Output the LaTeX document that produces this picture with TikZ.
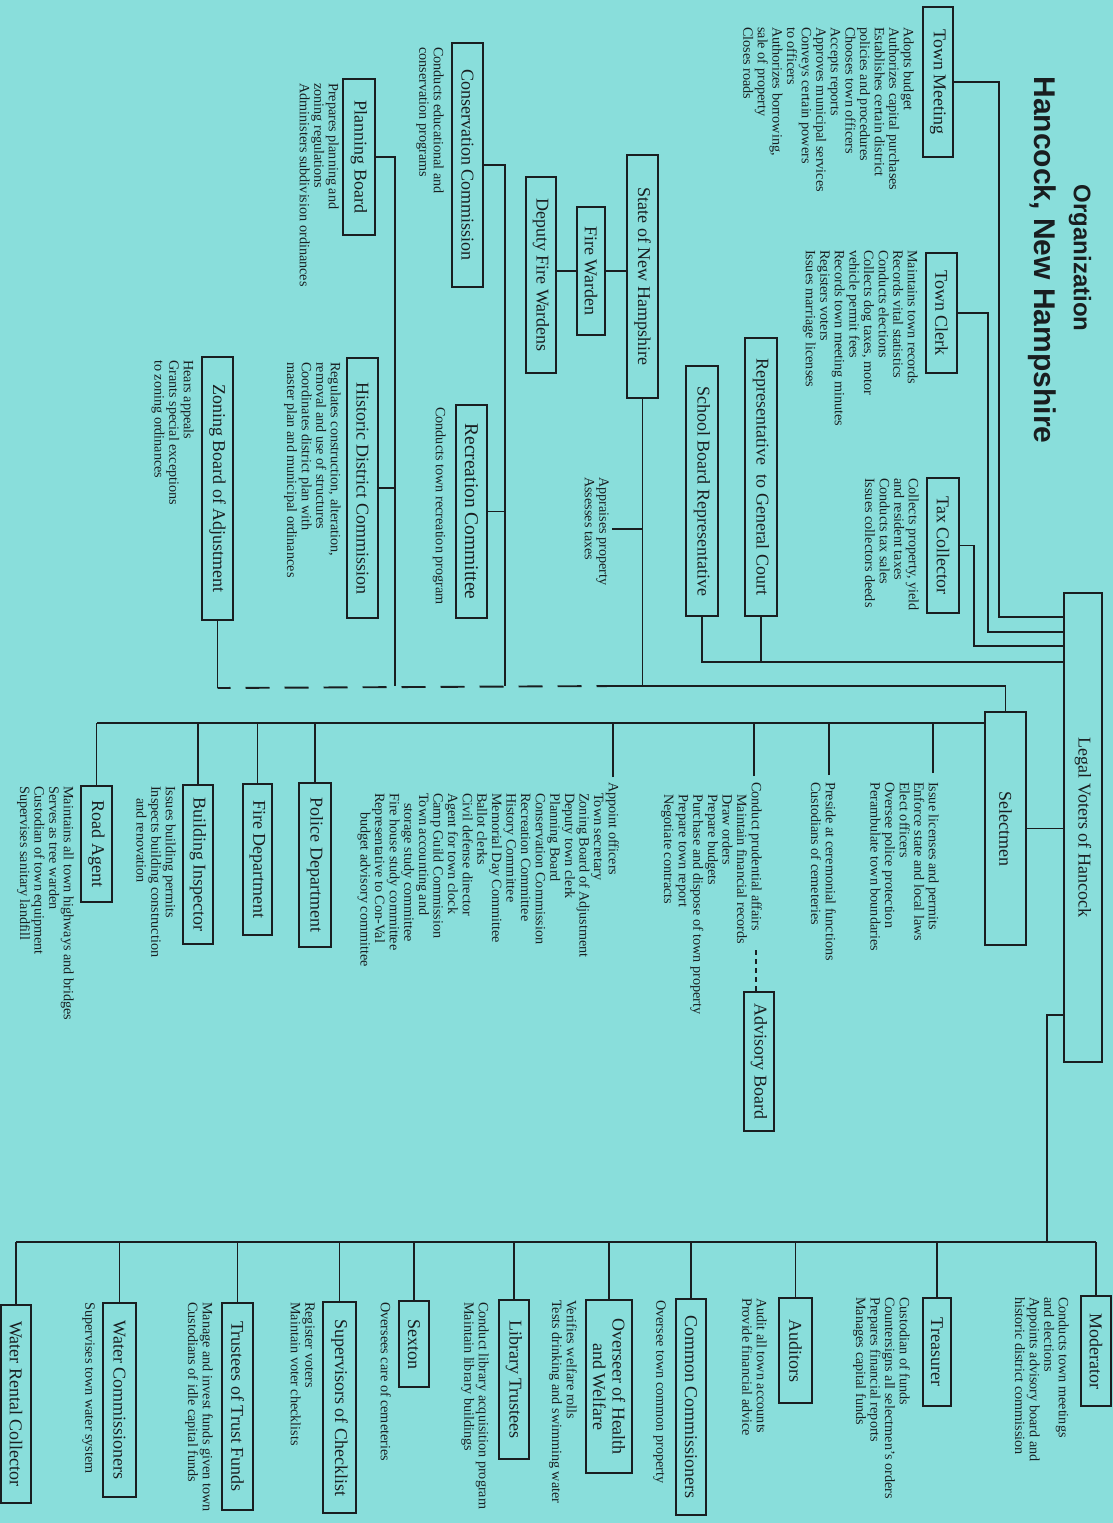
\documentclass[tikz,border=0pt]{standalone}
\usepackage{fontspec}
\setmainfont{Liberation Serif}
\newfontfamily\titlefont{Liberation Sans}
\usetikzlibrary{calc}
\definecolor{bg}{RGB}{137,222,219}
\definecolor{ink}{RGB}{25,30,32}
\newcommand\descfont{\fontsize{14.2}{14.6}\selectfont}
\newcommand\boxfont{\fontsize{18}{19.5}\selectfont}
\begin{document}
\begin{tikzpicture}[x=1pt,y=-1pt,
  box/.style={draw=ink, text=ink, line width=2.4pt, rotate=-90, inner sep=0pt, font=\boxfont, align=center},
  desc/.style={text=ink, rotate=-90, anchor=north west, inner sep=0pt, align=left, font=\descfont},
  conn/.style={draw=ink, line width=1.9pt},
  dashconn/.style={draw=ink, line width=1.9pt, dash pattern=on 24pt off 15pt, dash phase=11pt},
  smalldash/.style={draw=ink, line width=1.9pt, dash pattern=on 5pt off 4pt}]
\path[use as bounding box, fill=bg] (0,0) rectangle (1113,1523);

% title
\node[rotate=-90, text=ink, inner sep=0pt, font={\titlefont\bfseries\fontsize{24}{26}\selectfont}] (title1) at (1080,258) {Organization};
\node[rotate=-90, text=ink, inner sep=0pt, font={\titlefont\bfseries\fontsize{30}{32}\selectfont}] (title2) at (1042,260) {Hancock, New Hampshire};

% upper boxes
\node[box, minimum width=150pt, minimum height=30pt] (TM) at (938,82) {Town Meeting};
\node[box, minimum width=120pt, minimum height=31pt] (TC) at (941.5,313) {Town Clerk};
\node[box, minimum width=135pt, minimum height=32pt] (TX) at (943,545.5) {Tax Collector};
\node[box, minimum width=278pt, minimum height=32pt] (RG) at (761,477) {Representative\ \ to General Court};
\node[box, minimum width=250pt, minimum height=32pt] (SB) at (702,491) {School Board Representative};
\node[box, minimum width=243pt, minimum height=31pt] (NH) at (642.5,276.5) {State of New Hampshire};
\node[box, minimum width=128pt, minimum height=28pt] (FW) at (591,271) {Fire Warden};
\node[box, minimum width=196pt, minimum height=30pt] (DFW) at (541,275) {Deputy Fire Wardens};
\node[box, minimum width=244pt, minimum height=31pt] (CC) at (467.5,165) {Conservation Commission};
\node[box, minimum width=213pt, minimum height=31pt, font={\fontsize{19.5}{21}\selectfont}] (RC) at (471.5,511.5) {Recreation Committee};
\node[box, minimum width=156pt, minimum height=32pt] (PB) at (359,157) {Planning Board};
\node[box, minimum width=260pt, minimum height=31pt] (HD) at (362.5,488) {Historic District Commission};
\node[box, minimum width=263pt, minimum height=31pt] (ZB) at (217.5,488.5) {Zoning Board of Adjustment};
\node[box, minimum width=469pt, minimum height=38pt] (LV) at (1083,827.5) {Legal Voters of Hancock};
\node[box, minimum width=233pt, minimum height=41pt] (SEL) at (1005.5,828.5) {Selectmen};
\node[box, minimum width=139pt, minimum height=30pt] (AB) at (759,1061.5) {Advisory Board};
\node[box, minimum width=164pt, minimum height=32pt] (PD) at (315,865) {Police Department};
\node[box, minimum width=151pt, minimum height=29pt] (FD) at (257.5,859.5) {Fire Department};
\node[box, minimum width=159pt, minimum height=30pt] (BI) at (198,864.5) {Building Inspector};
\node[box, minimum width=116pt, minimum height=31pt] (RA) at (96.5,844) {Road Agent};

% bottom row boxes
\node[box, minimum width=110pt, minimum height=30pt] (MOD) at (1096,1351) {Moderator};
\node[box, minimum width=108pt, minimum height=28pt] (TR) at (937,1352) {Treasurer};
\node[box, minimum width=105pt, minimum height=33pt] (AU) at (795.5,1350.5) {Auditors};
\node[box, minimum width=216pt, minimum height=30pt] (COM) at (691,1407) {Common Commissioners};
\node[box, minimum width=173pt, minimum height=46pt] (OV) at (609,1386.5) {Overseer of Health\\and Welfare};
\node[box, minimum width=159pt, minimum height=30pt] (LT) at (514,1379.5) {Library Trustees};
\node[box, minimum width=86pt, minimum height=30pt] (SX) at (414,1344) {Sexton};
\node[box, minimum width=211pt, minimum height=33pt] (SC) at (339.5,1407.5) {Supervisors of Checklist};
\node[box, minimum width=207pt, minimum height=31pt] (TTF) at (237.5,1406.5) {Trustees of Trust Funds};
\node[box, minimum width=194pt, minimum height=33pt] (WC) at (119.5,1400) {Water Commissioners};
\node[box, minimum width=198pt, minimum height=30pt] (WRC) at (16,1404) {Water Rental Collector};

% descriptions
\node[desc] (dTM) at (914,27) {Adopts budget\\Authorizes capital purchases\\Establishes certain district\\policies and procedures\\Chooses town officers\\Accepts reports\\Approves municipal services\\Conveys certain powers\\to officers\\Authorizes borrowing,\\sale of property\\Closes roads};
\node[desc] (dTC) at (918,250) {Maintains town records\\Records vital statistics\\Conducts elections\\Collects dog taxes, motor\\vehicle permit fees\\Records town meeting minutes\\Registers voters\\Issues marriage licenses};
\node[desc] (dTX) at (919,478) {Collects property, yield\\and resident taxes\\Conducts tax sales\\Issues collectors deeds};
\node[desc] (dAP) at (609,477) {Appraises property\\Assesses taxes};
\node[desc] (dCC) at (444,47) {Conducts educational and\\conservation programs};
\node[desc] (dRC) at (446,407) {Conducts town recreation program};
\node[desc] (dPB) at (339,83) {Prepares planning and\\zoning regulations\\Administers subdivision ordinances};
\node[desc] (dHD) at (341,362) {Regulates construction, alteration,\\removal and use of structures\\Coordinates district plan with\\master plan and municipal ordinances};
\node[desc] (dZB) at (194,360) {Hears appeals\\Grants special exceptions\\to zoning ordinances};

\node[desc] (dS1) at (939,782) {Issue licenses and permits\\Enforce state and local laws\\Elect officers\\Oversee police protection\\Perambulate town boundaries};
\node[desc] (dS2) at (836,782) {Preside at ceremonial functions\\Custodians of cemeteries};
\node[desc] (dS3) at (762,782) {Conduct prudential affairs\\\hspace*{12pt}Maintain financial records\\\hspace*{12pt}Draw orders\\\hspace*{12pt}Prepare budgets\\\hspace*{12pt}Purchase and dispose of town property\\\hspace*{12pt}Prepare town report\\\hspace*{12pt}Negotiate contracts};
\node[desc] (dS4) at (619,782) {Appoint officers\\\hspace*{11pt}Town secretary\\\hspace*{11pt}Zoning Board of Adjustment\\\hspace*{11pt}Deputy town clerk\\\hspace*{11pt}Planning Board\\\hspace*{11pt}Conservation Commission\\\hspace*{11pt}Recreation Committee\\\hspace*{11pt}History Committee\\\hspace*{11pt}Memorial Day Committee\\\hspace*{11pt}Ballot clerks\\\hspace*{11pt}Civil defense director\\\hspace*{11pt}Agent for town clock\\\hspace*{11pt}Camp Guild Commission\\\hspace*{11pt}Town accounting and\\\hspace*{21pt}storage study committee\\\hspace*{11pt}Fire house study committee\\\hspace*{11pt}Representative to Con-Val\\\hspace*{30pt}budget advisory committee};
\node[desc] (dBI) at (176,786) {Issues building permits\\Inspects building construction\\\hspace*{12pt}and renovation};
\node[desc] (dRA) at (74,786) {Maintains all town highways and bridges\\Serves as tree warden\\Custodian of town equipment\\Supervises sanitary landfill};

\node[desc] (dMOD) at (1069,1297) {Conducts town meetings\\and elections\\Appoints advisory board and\\historic district commission};
\node[desc] (dTR) at (910,1297) {Custodian of funds\\Countersigns all selectmen's orders\\Prepares financial reports\\Manages capital funds};
\node[desc] (dAU) at (767,1298) {Audit all town accounts\\Provide financial advice};
\node[desc] (dCOM) at (666,1300) {Oversee town common property};
\node[desc] (dOV) at (577,1300) {Verifies welfare rolls\\Tests drinking and swimming water};
\node[desc] (dLT) at (489,1302) {Conduct library acquisition program\\Maintain library buildings};
\node[desc] (dSX) at (391,1302) {Oversees care of cemeteries};
\node[desc] (dSC) at (315,1302) {Register voters\\Maintain voter checklists};
\node[desc] (dTTF) at (213,1302) {Manage and invest funds given town\\Custodians of idle capital funds};
\node[desc] (dWC) at (95,1302) {Supervises town water system};

% junction coordinates
\coordinate (jTM) at (999,617);
\coordinate (jTC) at (988,632);
\coordinate (jTX) at (974,646);
\coordinate (jRep) at (702,662);
\coordinate (solidEnd) at (615,686);
\coordinate (jCR) at (505,686);
\coordinate (jPH) at (395,686);
\coordinate (zc) at (217.5,688);
\coordinate (apprTip) at (612,529);
\coordinate (busS) at (0,723);
\coordinate (busB) at (0,1242);
\coordinate (jLVb) at (1047,1015);
\coordinate (cpEnd) at (756,950);
\coordinate (tS1) at (933,773);
\coordinate (tS2) at (829,775);
\coordinate (tS3) at (754,776);
\coordinate (tS4) at (613,777);

% connectors to Legal Voters
\draw[conn] (TM.north) -| (jTM) -- (jTM -| LV.south);
\draw[conn] (TC.north) -| (jTC) -- (jTC -| LV.south);
\draw[conn] (TX.north) -| (jTX) -- (jTX -| LV.south);
\draw[conn] (SB.east) |- (jRep -| LV.south);
\draw[conn] (RG.east) -- (RG.east |- jRep);
\draw[conn] (SEL.north) -- (SEL.north -| LV.south);

% boards and commissions line
\draw[conn] (SEL.west) |- (solidEnd);
\draw[dashconn] (zc) -- (solidEnd);
\draw[conn] (ZB.east) -- (zc);
\draw[conn] (NH.east) -- (NH.east |- solidEnd);
\draw[conn] (apprTip) -- (apprTip -| NH.east);
\draw[conn] (FW.south) -- (FW.south -| DFW.north);
\draw[conn] (FW.north) -- (FW.north -| NH.south);
\draw[conn] (CC.north) -| (jCR);
\draw[conn] (RC.north) -- (RC.north -| jCR);
\draw[conn] (PB.north) -| (jPH);
\draw[conn] (HD.north) -- (HD.north -| jPH);

% selectmen bus
\draw[conn] (SEL.south |- busS) -- (RA.west |- busS);
\draw[conn] (tS1) -- (tS1 |- busS);
\draw[conn] (tS2) -- (tS2 |- busS);
\draw[conn] (tS3) -- (tS3 |- busS);
\draw[conn] (tS4) -- (tS4 |- busS);
\draw[conn] (PD.west) -- (PD.west |- busS);
\draw[conn] (FD.west) -- (FD.west |- busS);
\draw[conn] (BI.west) -- (BI.west |- busS);
\draw[conn] (RA.west) -- (RA.west |- busS);
\draw[smalldash] (cpEnd) -- (cpEnd |- AB.west);

% bottom bus
\draw[conn] (jLVb -| LV.south) -- (jLVb) -- (jLVb |- busB);
\draw[conn] (MOD.west |- busB) -- (WRC.west |- busB);
\foreach \n in {MOD,TR,AU,COM,OV,LT,SX,SC,TTF,WC,WRC}{
  \draw[conn] (\n.west) -- (\n.west |- busB);
}
\end{tikzpicture}
\end{document}
